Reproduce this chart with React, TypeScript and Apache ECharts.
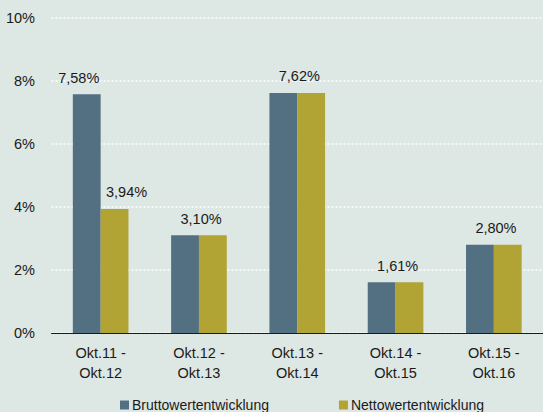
import React, { useEffect, useRef } from "react";
import * as echarts from "echarts";

const categories = ["Okt.11 -\nOkt.12", "Okt.12 -\nOkt.13", "Okt.13 -\nOkt.14", "Okt.14 -\nOkt.15", "Okt.15 -\nOkt.16"];
const brutto = [7.58, 3.1, 7.62, 1.61, 2.8];
const netto = [3.94, 3.1, 7.62, 1.61, 2.8];
const seriesNames = ["Bruttowertentwicklung", "Nettowertentwicklung"];

const fmt = (v: number) => v.toFixed(2).replace(".", ",") + "%";

export default function App() {
  const ref = useRef<HTMLDivElement>(null);
  useEffect(() => {
    const chart = echarts.init(ref.current!, null, { renderer: "svg" });
    const font = "'Liberation Sans', Arial, sans-serif";
    const labelBase = {
      show: true,
      position: "top" as const,
      distance: 9,
      fontSize: 14.5,
      fontFamily: font,
      color: "#1a1a1a",
      formatter: (p: any) => fmt(p.value),
    };
    const bruttoData = brutto.map((v, i) => {
      const separate = brutto[i] !== netto[i];
      return {
        value: v,
        label: { ...labelBase, offset: [separate ? -8 : 16, 0] },
      };
    });
    const nettoData = netto.map((v, i) => {
      const separate = brutto[i] !== netto[i];
      return {
        value: v,
        label: { ...labelBase, show: separate, offset: [12, 0] },
      };
    });
    chart.setOption({
      animation: false,
      backgroundColor: "#dde7e3",
      textStyle: { fontFamily: font },
      grid: { left: 51.5, right: -3.5, top: 18, bottom: 79 },
      legend: {
        left: 115,
        top: 392,
        itemWidth: 9,
        itemHeight: 9,
        itemGap: 70,
        icon: "rect",
        textStyle: { fontSize: 14, lineHeight: 16, fontFamily: font, color: "#1a1a1a", padding: [0, 0, 0, -2] },
        data: seriesNames,
      },
      xAxis: {
        type: "category",
        data: categories,
        axisLine: { lineStyle: { color: "#1a1a1a", width: 1 } },
        axisTick: { show: false },
        axisLabel: { fontSize: 14.5, fontFamily: font, color: "#1a1a1a", lineHeight: 20, margin: 10 },
      },
      yAxis: {
        type: "value",
        min: 0,
        max: 10,
        interval: 2,
        axisLabel: {
          fontSize: 14.5,
          fontFamily: font,
          color: "#1a1a1a",
          margin: 16.5,
          formatter: (v: number) => v + "%",
        },
        axisLine: { show: false },
        axisTick: { show: false },
        splitLine: { lineStyle: { color: "#ffffff", type: [2, 2], width: 1.5 } },
      },
      series: [
        {
          name: seriesNames[0],
          type: "bar",
          data: bruttoData,
          itemStyle: { color: "#527082" },
          barGap: "0%",
          barCategoryGap: "43.4%",
        },
        {
          name: seriesNames[1],
          type: "bar",
          data: nettoData,
          itemStyle: { color: "#b1a334" },
          barGap: "0%",
          barCategoryGap: "43.4%",
        },
      ],
    });
    return () => chart.dispose();
  }, []);
  return <div ref={ref} style={{ width: 543, height: 412, position: "absolute", left: 0, top: 0 }} />;
}
